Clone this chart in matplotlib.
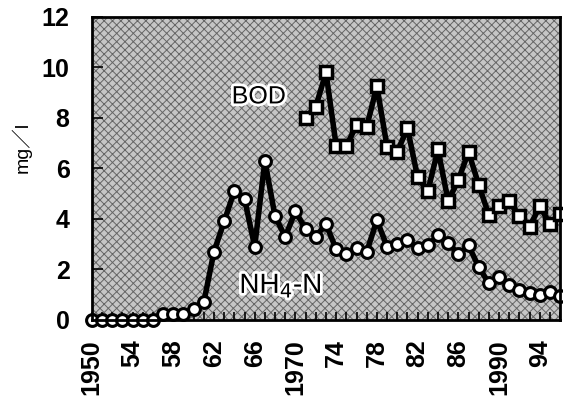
import matplotlib
matplotlib.use('Agg')
import matplotlib.pyplot as plt
import matplotlib.patheffects as pe
from matplotlib.patches import Rectangle

plt.rcParams['font.family'] = ['Liberation Sans', 'Noto Sans CJK JP', 'DejaVu Sans']
plt.rcParams['hatch.linewidth'] = 0.7

# NH4-N, 1950-1996
nh4_years = list(range(1950, 1997))
nh4_values = [0.0, 0.0, 0.0, 0.0, 0.0, 0.0, 0.0, 0.25, 0.25, 0.25,
              0.45, 0.7, 2.7, 3.9, 5.1, 4.8, 2.9, 6.3, 4.1, 3.3,
              4.3, 3.6, 3.3, 3.8, 2.8, 2.6, 2.85, 2.7, 3.95, 2.9,
              3.0, 3.15, 2.85, 2.95, 3.35, 3.05, 2.6, 2.95, 2.1, 1.45,
              1.7, 1.4, 1.2, 1.05, 1.0, 1.1, 0.95]

# BOD, 1971-1996
bod_years = list(range(1971, 1997))
bod_values = [8.0, 8.45, 9.8, 6.9, 6.9, 7.7, 7.65, 9.25, 6.85, 6.65,
              7.6, 5.65, 5.1, 6.75, 4.7, 5.55, 6.65, 5.35, 4.15, 4.5,
              4.7, 4.1, 3.7, 4.5, 3.8, 4.2]

tick_years = list(range(1950, 1997, 4))
tick_labels = ['1950', '54', '58', '62', '66', '1970', '74', '78', '82', '86', '1990', '94']

fig = plt.figure(figsize=(5.63, 4.01), dpi=100)
ax = fig.add_axes([0.163, 0.202, 0.832, 0.756])

# halftone-like grey background
ax.set_facecolor('white')
bg = Rectangle((0, 0), 1, 1, transform=ax.transAxes, facecolor='#c6c6c6',
               edgecolor='#666666', linewidth=0, hatch='xxxx', zorder=0)
ax.add_patch(bg)

ax.plot(nh4_years, nh4_values, color='black', linewidth=4, marker='o',
        markersize=8.5, markerfacecolor='white', markeredgecolor='black',
        markeredgewidth=2.2, clip_on=False, zorder=3)
ax.plot(bod_years, bod_values, color='black', linewidth=4, marker='s',
        markersize=8.5, markerfacecolor='white', markeredgecolor='black',
        markeredgewidth=2.5, clip_on=False, zorder=3)

halo = [pe.withStroke(linewidth=4, foreground='white')]
ax.text(1966.4, 8.85, 'BOD', fontsize=18, ha='center', va='center',
        path_effects=halo, zorder=4)
ax.text(1964.5, 1.35, 'NH$_4$-N', fontsize=20, ha='left', va='center',
        path_effects=halo, zorder=4)

ax.set_xlim(1950, 1996)
ax.set_ylim(0, 12)
ax.set_yticks(range(0, 13, 2))
ax.set_xticks(nh4_years, minor=True)
ax.set_xticks(tick_years)
ax.set_xticklabels(tick_labels, rotation=90, fontsize=18, fontweight='bold')
ax.set_yticklabels([str(v) for v in range(0, 13, 2)], fontsize=18, fontweight='bold')
ax.tick_params(axis='x', which='major', direction='in', length=6, width=1.2, pad=14, top=False)
ax.tick_params(axis='x', which='minor', direction='in', length=6, width=1.2, top=False)
ax.tick_params(axis='y', direction='in', length=8, width=1.2, pad=16, right=False)

for s in ax.spines.values():
    s.set_linewidth(2)
    s.set_zorder(5)

ax.set_ylabel('mg／l', fontsize=14)
ax.yaxis.set_label_coords(-0.128, 0.57)

fig.savefig('out.png', dpi=100)
